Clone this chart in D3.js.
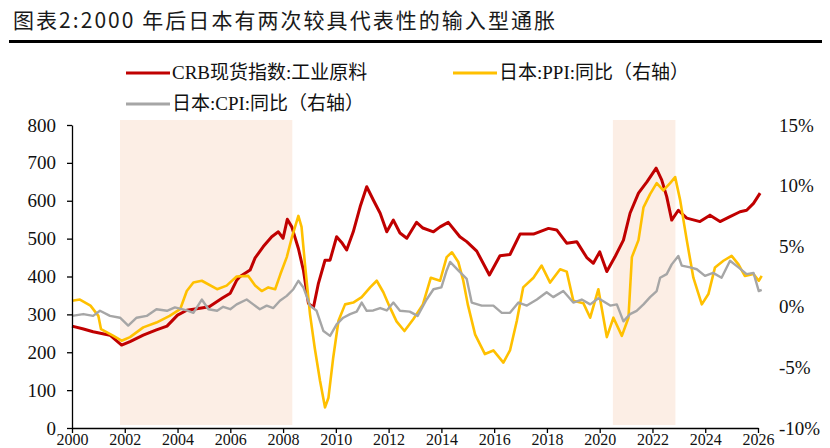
<!DOCTYPE html>
<html>
<head>
<meta charset="utf-8">
<script src="https://cdn.jsdelivr.net/npm/d3@7"></script>
<style>
  html, body { margin: 0; padding: 0; background: #fff; }
  svg { display: block; }
</style>
</head>
<body>
<svg id="chart" width="830" height="448"></svg>
<script>
// ---------------- DATA ----------------
const titleText = "图表2:2000 年后日本有两次较具代表性的输入型通胀";
const seriesNames = ["CRB现货指数:工业原料", "日本:PPI:同比（右轴）", "日本:CPI:同比（右轴）"];

const xTickYears = [2000, 2002, 2004, 2006, 2008, 2010, 2012, 2014, 2016, 2018, 2020, 2022, 2024, 2026];
const leftTicks = [0, 100, 200, 300, 400, 500, 600, 700, 800];
const rightTicks = [-10, -5, 0, 5, 10, 15];

const shadeStarts = [2001.82, 2020.5];
const shadeEnds = [2008.35, 2022.87];

const crbDates = [2000.0, 2000.4, 2000.8, 2001.44, 2001.88, 2002.2, 2002.7, 2003.2, 2003.6, 2004.0, 2004.35, 2004.85,
  2005.2, 2005.7, 2006.0, 2006.25, 2006.37, 2006.75, 2006.94, 2007.25, 2007.57, 2007.82, 2008.0, 2008.16, 2008.33,
  2008.58, 2008.77, 2008.96, 2009.15, 2009.34, 2009.59, 2009.78, 2010.03, 2010.22, 2010.41, 2010.66, 2010.92, 2011.17,
  2011.42, 2011.68, 2011.93, 2012.18, 2012.43, 2012.69, 2013.06, 2013.3, 2013.7, 2013.95, 2014.26, 2014.7, 2014.96,
  2015.34, 2015.82, 2016.22, 2016.6, 2016.98, 2017.49, 2018.06, 2018.37, 2018.75, 2019.13, 2019.51, 2019.76, 2020.0,
  2020.27, 2020.58, 2020.9, 2021.15, 2021.47, 2021.79, 2022.14, 2022.35, 2022.54, 2022.73, 2022.98, 2023.3, 2023.8,
  2024.18, 2024.56, 2024.94, 2025.32, 2025.57, 2025.83, 2026.08];
const crbValues = [269, 262, 254, 245, 219, 228, 245, 259, 269, 298, 311, 316,
  320, 343, 356, 391, 400, 417, 449, 479, 505, 518, 501, 551, 531,
  474, 417, 329, 318, 382, 443, 443, 505, 490, 470, 518, 584, 637,
  602, 567, 518, 549, 515, 501, 543, 528, 518, 531, 543, 505, 492,
  467, 404, 455, 458, 512, 512, 527, 523, 488, 492, 450, 435, 465,
  413, 452, 496, 567, 620, 650, 686, 655, 611, 549, 575, 554, 545,
  562, 545, 558, 571, 575, 593, 620];

const ppiDates = [2000.0, 2000.3, 2000.7, 2001.0, 2001.1, 2001.57, 2001.88, 2002.2, 2002.7, 2003.2, 2003.7, 2004.1,
  2004.35, 2004.6, 2004.92, 2005.5, 2005.86, 2006.24, 2006.68, 2006.94, 2007.19, 2007.44, 2007.7, 2007.9, 2008.14,
  2008.33, 2008.58, 2008.7, 2008.83, 2009.02, 2009.2, 2009.4, 2009.59, 2009.72, 2009.9, 2010.1, 2010.35, 2010.66,
  2010.98, 2011.3, 2011.55, 2011.8, 2012.05, 2012.3, 2012.6, 2012.94, 2013.3, 2013.6, 2013.95, 2014.2, 2014.4,
  2014.64, 2014.83, 2015.0, 2015.28, 2015.65, 2015.97, 2016.35, 2016.6, 2016.86, 2017.1, 2017.49, 2017.8, 2018.12,
  2018.5, 2018.75, 2019.0, 2019.38, 2019.64, 2019.95, 2020.27, 2020.52, 2020.84, 2021.09, 2021.22, 2021.47, 2021.66,
  2021.91, 2022.16, 2022.41, 2022.67, 2022.86, 2023.05, 2023.3, 2023.55, 2023.87, 2024.12, 2024.37, 2024.69, 2025.0,
  2025.26, 2025.5, 2025.83, 2026.03, 2026.14];
const ppiValues = [0.5, 0.6, 0.1, -0.75, -1.85, -2.4, -2.8, -2.5, -1.7, -1.3, -0.75, -0.2,
  1.3, 2.0, 2.15, 1.45, 1.75, 2.5, 2.55, 1.75, 1.3, 1.6, 1.45, 2.7, 4.1,
  5.7, 7.5, 6.6, 3.5, -0.6, -3.4, -6.1, -8.3, -7.5, -4.2, -1.15, 0.2, 0.35,
  0.8, 1.6, 2.15, 1.2, -0.05, -1.2, -2.0, -1.0, 0.2, 2.4, 2.15, 4.1, 4.5,
  3.7, 2.15, 0.2, -2.3, -3.9, -3.6, -4.6, -3.6, -1.15, 1.6, 2.4, 3.4, 2.0,
  3.1, 2.9, 0.5, 0.3, -0.9, 1.45, -2.5, -0.9, -2.4, -0.9, 4.1, 5.5, 8.2,
  9.3, 10.2, 9.6, 10.2, 10.7, 8.8, 5.5, 2.4, 0.2, 1.05, 3.25, 3.8, 4.2,
  3.5, 2.55, 2.7, 2.15, 2.55];

const cpiDates = [2000.0, 2000.43, 2000.8, 2001.06, 2001.44, 2001.82, 2002.13, 2002.45, 2002.83, 2003.2, 2003.6, 2003.9,
  2004.35, 2004.6, 2004.92, 2005.17, 2005.5, 2005.73, 2006.0, 2006.24, 2006.62, 2006.87, 2007.12, 2007.38, 2007.63,
  2007.88, 2008.14, 2008.39, 2008.58, 2008.77, 2009.02, 2009.27, 2009.53, 2009.78, 2010.03, 2010.28, 2010.54, 2010.79,
  2010.98, 2011.17, 2011.42, 2011.68, 2011.93, 2012.18, 2012.43, 2012.8, 2013.1, 2013.44, 2013.7, 2014.0, 2014.2,
  2014.33, 2014.64, 2014.96, 2015.15, 2015.53, 2015.97, 2016.29, 2016.6, 2016.92, 2017.24, 2017.62, 2017.99, 2018.24,
  2018.62, 2019.0, 2019.32, 2019.64, 2019.95, 2020.4, 2020.65, 2020.9, 2021.15, 2021.4, 2021.66, 2021.91, 2022.16,
  2022.29, 2022.54, 2022.73, 2022.98, 2023.11, 2023.43, 2023.68, 2023.99, 2024.3, 2024.62, 2024.94, 2025.26, 2025.57,
  2025.83, 2026.03, 2026.14];
const cpiValues = [-0.75, -0.6, -0.75, -0.33, -0.75, -0.9, -1.55, -0.9, -0.75, -0.2, -0.33, -0.05,
  -0.3, -0.5, 0.6, -0.2, -0.33, 0.0, -0.2, 0.2, 0.6, 0.2, -0.2, 0.1, -0.1,
  0.5, 0.9, 1.45, 2.15, 1.6, 0.1, -0.33, -2.0, -2.4, -1.45, -0.9, -0.6, -0.4,
  0.35, -0.33, -0.3, -0.1, -0.3, 0.35, -0.33, -0.4, -0.75, 0.6, 1.45, 1.6, 3.0,
  3.7, 3.0, 2.3, 0.35, 0.1, 0.1, -0.5, -0.5, 0.35, 0.1, 0.6, 1.2, 0.8,
  1.3, 0.35, 0.6, 0.2, 0.7, 0.1, 0.2, -1.2, -0.6, -0.33, 0.2, 0.8, 1.3,
  2.4, 2.7, 3.5, 4.2, 3.4, 3.25, 3.1, 2.55, 2.8, 2.4, 3.8, 3.25, 2.7,
  2.8, 1.3, 1.4];

// ---------------- STYLE ----------------
const COLORS = { crb: "#C00000", ppi: "#FFC000", cpi: "#A6A6A6", shade: "#FCEEE5", ink: "#111" };
const serif = "'Liberation Serif', 'Times New Roman', 'Noto Sans CJK SC', serif";
const cjk = "'Liberation Serif', 'Noto Sans CJK SC', serif";

const svg = d3.select("#chart");

// Title
svg.append("text")
  .attr("x", 13).attr("y", 28)
  .attr("font-family", "'Noto Sans CJK SC', 'Noto Sans', sans-serif")
  .attr("font-size", 21)
  .attr("fill", "#1a1a1a")
  .attr("textLength", 542).attr("lengthAdjust", "spacing")
  .text(titleText);
svg.append("line")
  .attr("x1", 9).attr("x2", 822).attr("y1", 41.5).attr("y2", 41.5)
  .attr("stroke", "#000").attr("stroke-width", 3);

// Scales
const x = d3.scaleLinear().domain([2000, 2026]).range([72, 758]);
const yL = d3.scaleLinear().domain([0, 800]).range([428, 125]);
const yR = d3.scaleLinear().domain([-10, 15]).range([428, 125]);

// Shading
svg.append("g").selectAll("rect").data(shadeStarts.map((s, i) => [s, shadeEnds[i]])).join("rect")
  .attr("x", d => x(d[0])).attr("width", d => x(d[1]) - x(d[0]))
  .attr("y", 120).attr("height", 305)
  .attr("fill", COLORS.shade);

// Lines
const crbData = crbDates.map((d, i) => [d, crbValues[i]]);
const ppiData = ppiDates.map((d, i) => [d, ppiValues[i]]);
const cpiData = cpiDates.map((d, i) => [d, cpiValues[i]]);

const lineL = d3.line().x(d => x(d[0])).y(d => yL(d[1]));
const lineR = d3.line().x(d => x(d[0])).y(d => yR(d[1]));

svg.append("path").datum(crbData).attr("d", lineL)
  .attr("fill", "none").attr("stroke", COLORS.crb).attr("stroke-width", 3).attr("stroke-linejoin", "round");
svg.append("path").datum(ppiData).attr("d", lineR)
  .attr("fill", "none").attr("stroke", COLORS.ppi).attr("stroke-width", 2.6).attr("stroke-linejoin", "round");
svg.append("path").datum(cpiData).attr("d", lineR)
  .attr("fill", "none").attr("stroke", COLORS.cpi).attr("stroke-width", 2.4).attr("stroke-linejoin", "round");

// Left axis
const gL = svg.append("g").attr("transform", "translate(72,0)")
  .call(d3.axisLeft(yL).tickValues(leftTicks).tickSize(5).tickSizeOuter(0).tickPadding(11));
gL.select(".domain").attr("stroke", "#000").attr("stroke-width", 1.3);
gL.selectAll(".tick line").attr("stroke", "#000").attr("stroke-width", 1.3);
gL.selectAll("text").attr("font-family", serif).attr("font-size", 19).attr("fill", COLORS.ink);

// Right axis (labels only)
const gR = svg.append("g").attr("transform", "translate(779,0)")
  .call(d3.axisRight(yR).tickValues(rightTicks).tickSize(0).tickPadding(0).tickFormat(d => d + "%"));
gR.select(".domain").remove();
gR.selectAll("text").attr("font-family", serif).attr("font-size", 19).attr("fill", COLORS.ink);

// Bottom axis
const gB = svg.append("g").attr("transform", "translate(0,428)")
  .call(d3.axisBottom(x).tickValues(xTickYears).tickFormat(d3.format("d")).tickSize(5).tickSizeOuter(0).tickPadding(1));
gB.select(".domain").attr("stroke", "#000").attr("stroke-width", 1.3);
gB.selectAll(".tick line").attr("stroke", "#000").attr("stroke-width", 1.3);
gB.selectAll("text").attr("font-family", serif).attr("font-size", 16).attr("fill", COLORS.ink);

// Legend
const legendItems = [
  { name: seriesNames[0], color: COLORS.crb, lx: 126, ly: 73, w: 3 },
  { name: seriesNames[1], color: COLORS.ppi, lx: 453, ly: 73, w: 3 },
  { name: seriesNames[2], color: COLORS.cpi, lx: 126, ly: 104, w: 3 }
];
const lg = svg.append("g").selectAll("g").data(legendItems).join("g");
lg.append("line")
  .attr("x1", d => d.lx).attr("x2", d => d.lx + 44)
  .attr("y1", d => d.ly).attr("y2", d => d.ly)
  .attr("stroke", d => d.color).attr("stroke-width", d => d.w);
lg.append("text")
  .attr("x", d => d.lx + 46).attr("y", d => d.ly + 6)
  .attr("font-family", cjk).attr("font-size", 19).attr("fill", COLORS.ink)
  .text(d => d.name);
</script>
</body>
</html>
